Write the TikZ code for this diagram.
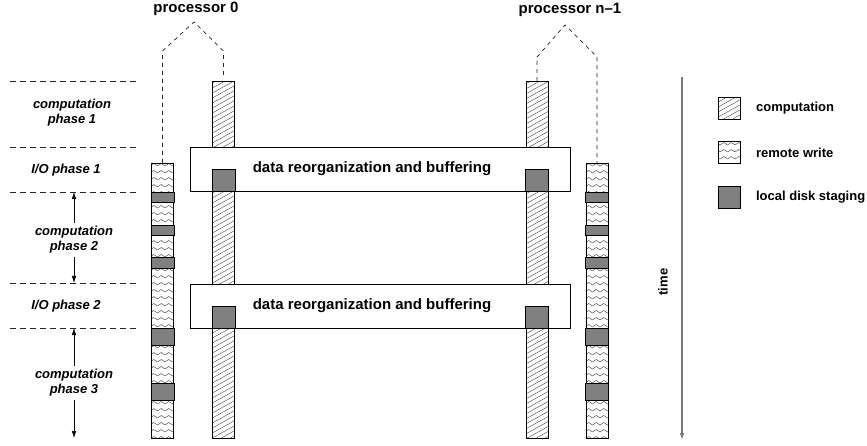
\documentclass[tikz,border=0pt]{standalone}
\usepackage{fontspec}
\setmainfont{Liberation Sans}
\usetikzlibrary{patterns,positioning,calc,arrows.meta}

\definecolor{stagegray}{RGB}{128,128,128}
\definecolor{hatchgray}{RGB}{85,85,85}
\definecolor{timegray}{RGB}{120,120,120}

% diagonal hatching for the computation bars
\pgfdeclarepatternformonly{hatch}{\pgfpoint{-1pt}{-1pt}}{\pgfpoint{10pt}{6pt}}{\pgfpoint{9pt}{5pt}}{%
  \pgfsetlinewidth{0.45pt}%
  \pgfpathmoveto{\pgfpoint{0pt}{0pt}}%
  \pgfpathlineto{\pgfpoint{9pt}{5pt}}%
  \pgfusepath{stroke}}

% zigzag rows for the remote write bars
\pgfdeclarepatternformonly{zigzag}{\pgfpoint{-1pt}{-1pt}}{\pgfpoint{8.5pt}{4pt}}{\pgfpoint{7.5pt}{7pt}}{%
  \pgfsetlinewidth{0.45pt}%
  \pgfpathmoveto{\pgfpoint{0pt}{0pt}}%
  \pgfpathlineto{\pgfpoint{3.75pt}{2.5pt}}%
  \pgfpathlineto{\pgfpoint{7.5pt}{0pt}}%
  \pgfusepath{stroke}}

\begin{document}
\begin{tikzpicture}[x=1pt,y=-1pt]

\tikzset{
        every node/.style={font=\bfseries\fontsize{13}{15.5}\selectfont},
        bar/.style={draw, line width=0.8pt, minimum width=22pt, inner sep=0pt, anchor=north},
        compbar/.style={bar, pattern=hatch, pattern color=hatchgray},
        rwbar/.style={bar, pattern=zigzag, pattern color=hatchgray},
        staging/.style={draw, line width=0.8pt, fill=stagegray},
        reorgbox/.style={draw, line width=0.8pt, fill=white, minimum width=380pt, minimum height=44pt, inner sep=0pt},
        bigtext/.style={font=\bfseries\fontsize{15}{18}\selectfont},
        phase/.style={font=\bfseries\itshape\fontsize{13}{15}\selectfont, align=center, inner sep=3pt},
        sepline/.style={black!85, line width=0.6pt, dash pattern=on 6pt off 4pt},
        procline/.style={black!85, line width=0.7pt, dash pattern=on 4pt off 4pt},
        phasearrow/.style={->, >={Latex[length=7pt,width=4.5pt]}, line width=0.6pt},
        timearrow/.style={->, >={Latex[length=7pt,width=4.5pt]}, timegray, line width=1.2pt},
        keybox/.style={draw, line width=0.8pt, minimum size=22pt, inner sep=0pt}
}

\useasboundingbox (0,0) rectangle (867,446);

% phase separators
\foreach \i/\y in {1/81,2/147,3/192,4/283,5/328} {
     \coordinate (sepL\i) at (10,\y);
     \coordinate (sepR\i) at (137,\y);
     \draw[sepline] (sepL\i) -- (sepR\i);
}
\coordinate (bottom) at (0,438);

\node[phase] (cp1) at (72,113) {computation\\phase 1};
\node[phase] (io1) at (66,170) {I/O phase 1};
\node[phase] (cp2) at (74,240) {computation\\phase 2};
\node[phase] (io2) at (66,306) {I/O phase 2};
\node[phase] (cp3) at (74,383) {computation\\phase 3};

\draw[phasearrow] (cp2.north) -- (cp2.north |- sepL3);
\draw[phasearrow] (cp2.south) -- (cp2.south |- sepL4);
\draw[phasearrow] (cp3.north) -- (cp3.north |- sepL5);
\draw[phasearrow] (cp3.south) -- (cp3.south |- bottom);

% processor bars
\node[rwbar, minimum height=275pt] (rw0) at (162.5,163) {};
\node[compbar, minimum height=357pt] (comp0) at (223.5,81) {};
\node[compbar, minimum height=357pt] (compn) at (537,81) {};
\node[rwbar, minimum height=275pt] (rwn) at (597,163) {};

\node[reorgbox] (reorg1) at (380,169) {};
\node[reorgbox] (reorg2) at (380,306) {};
\node[bigtext] (reorgtext1) at ([xshift=-8pt]reorg1.center) {data reorganization and buffering};
\node[bigtext] (reorgtext2) at ([xshift=-8pt]reorg2.center) {data reorganization and buffering};

\foreach \b in {comp0,compn}
     \foreach \r in {reorg1,reorg2}
          \draw[staging] (\b.west |- \r.center) rectangle (\b.east |- \r.south);

\foreach \b in {rw0,rwn}
     \foreach \t/\e in {192/202,225/235,257/268,328/345,383/400}
          \draw[staging] (\b.west |- 0,\t) rectangle (\b.east |- 0,\e);

% processors
\node[bigtext] (proc0) at (196,9) {processor 0};
\node[bigtext] (procn) at (570,10) {processor n--1};
\coordinate (apex0) at (194,22);
\coordinate (apexn) at (565,25);
\coordinate (knee0) at (0,51);
\coordinate (kneen) at (0,57);

\draw[procline] (rw0.north) -- (rw0.north |- knee0) -- (apex0) -- (comp0.north |- knee0) -- ([yshift=6pt]comp0.north);
\draw[procline] (compn.north) -- (compn.north |- kneen) -- (apexn) -- (rwn.north |- kneen) -- (rwn.north);

% time axis
\coordinate (timetop) at (682,77);
\coordinate (timebot) at (682,440);
\draw[timearrow] (timetop) -- (timebot);
\node[rotate=90] (timetext) at (663,282) {time};

% legend
\node[keybox, pattern=hatch, pattern color=hatchgray] (keycomp) at (729.5,108.5) {};
\node[keybox, pattern=zigzag, pattern color=hatchgray] (keyrw) at (729.5,152.5) {};
\node[keybox, fill=stagegray] (keystage) at (729.5,197) {};
\node[right=15pt of keycomp, inner sep=0pt] (keycomptext) {computation};
\node[right=15pt of keyrw, inner sep=0pt] (keyrwtext) {remote write};
\node[right=15pt of keystage, inner sep=0pt] (keystagetext) {local disk staging};

\end{tikzpicture}
\end{document}
